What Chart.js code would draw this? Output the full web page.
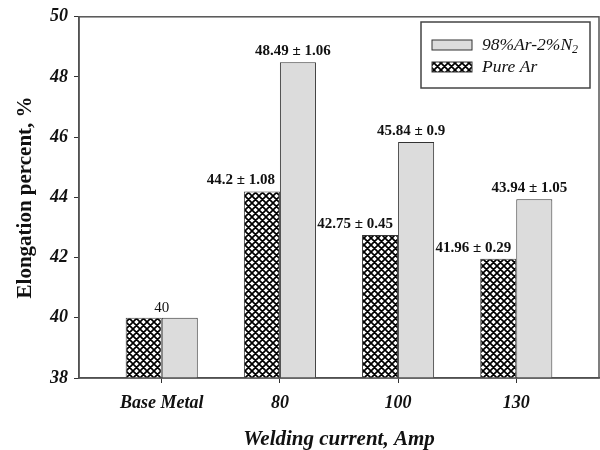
<!DOCTYPE html>
<html>
<head>
<meta charset="utf-8">
<script src="https://cdn.jsdelivr.net/npm/chart.js@4"></script>
<style>
  body { margin: 0; background: #fff; }
  #wrap { width: 600px; height: 450px; }
</style>
</head>
<body>
<div id="wrap"><canvas id="elongChart" width="600" height="450"></canvas></div>
<script>
// values
const categories = ['Base Metal', '80', '100', '130'];
const pureAr = [40, 44.2, 42.75, 41.96];
const pureArErr = [null, 1.08, 0.45, 0.29];
const mixAr = [40, 48.49, 45.84, 43.94];
const mixArErr = [null, 1.06, 0.9, 1.05];
const seriesLabels = ['Pure Ar', '98%Ar-2%N_2'];

const serif = "'Liberation Serif', 'Times New Roman', serif";
const ctx = document.getElementById('elongChart').getContext('2d');

// cross hatch fill for the Pure Ar bars
function makeHatch() {
    const c = document.createElement('canvas');
    c.width = 7;
    c.height = 7;
    const g = c.getContext('2d');
    g.fillStyle = '#fff';
    g.fillRect(0, 0, 7, 7);
    g.strokeStyle = '#000';
    g.lineWidth = 1.7;
    g.beginPath();
    for (let k = -7; k <= 7; k += 7) {
        g.moveTo(k, 0); g.lineTo(k + 7, 7);
        g.moveTo(k, 7); g.lineTo(k + 7, 0);
    }
    g.stroke();
    return ctx.createPattern(c, 'repeat');
}
const hatch = makeHatch();

const framePlugin = {
    id: 'frame',
    afterDraw(chart) {
        const { left, top, right, bottom } = chart.chartArea;
        const c = chart.ctx;
        c.save();
        c.strokeStyle = '#555';
        c.lineWidth = 1.5;
        c.strokeRect(left, top, right - left, bottom - top);
        c.restore();
    }
};

const valueLabels = {
    id: 'valueLabels',
    afterDatasetsDraw(chart) {
        const c = chart.ctx;
        const a = chart.getDatasetMeta(0).data;
        const b = chart.getDatasetMeta(1).data;
        c.save();
        c.fillStyle = '#111';
        c.textBaseline = 'alphabetic';
        categories.forEach((cat, i) => {
            if (pureArErr[i] == null) {
                c.font = '15px ' + serif;
                c.textAlign = 'center';
                c.fillText(String(pureAr[i]), (a[i].x + b[i].x) / 2, Math.min(a[i].y, b[i].y) - 6);
                return;
            }
            c.font = 'bold 15px ' + serif;
            c.textAlign = 'right';
            c.fillText(pureAr[i] + ' \u00b1 ' + pureArErr[i], a[i].x + a[i].width / 2 - 5, a[i].y - 7);
            c.textAlign = 'center';
            c.fillText(mixAr[i] + ' \u00b1 ' + mixArErr[i], b[i].x - 5, b[i].y - 7);
        });
        c.restore();
    }
};

const boxLegend = {
    id: 'boxLegend',
    afterDraw(chart) {
        const c = chart.ctx;
        c.save();
        c.strokeStyle = '#444';
        c.lineWidth = 1.5;
        c.strokeRect(421, 22, 169, 66);
        const rows = [chart.data.datasets[1], chart.data.datasets[0]];
        rows.forEach((ds, r) => {
            const cy = 45 + r * 22;
            c.fillStyle = ds.backgroundColor;
            c.fillRect(432, cy - 5, 40, 10);
            c.lineWidth = 1;
            c.strokeStyle = ds.borderColor;
            c.strokeRect(432, cy - 5, 40, 10);
            const parts = ds.label.split('_');
            c.fillStyle = '#111';
            c.textAlign = 'left';
            c.textBaseline = 'middle';
            c.font = 'italic 17.5px ' + serif;
            c.fillText(parts[0], 482, cy);
            if (parts[1]) {
                const w = c.measureText(parts[0]).width;
                c.font = 'italic 12px ' + serif;
                c.fillText(parts[1], 482 + w, cy + 5);
            }
        });
        c.restore();
    }
};

const tickFont = { family: serif, size: 18, weight: 'bold', style: 'italic' };

new Chart(ctx, {
    type: 'bar',
    data: {
        datasets: [
            {
                label: seriesLabels[0],
                data: pureAr.map((v, i) => ({ x: i, y: v })),
                backgroundColor: hatch,
                borderColor: '#333',
                borderWidth: 1
            },
            {
                label: seriesLabels[1],
                data: mixAr.map((v, i) => ({ x: i, y: v })),
                backgroundColor: '#dcdcdc',
                borderColor: '#333',
                borderWidth: 1
            }
        ]
    },
    options: {
        responsive: false,
        animation: false,
        categoryPercentage: 0.61,
        barPercentage: 1,
        layout: { padding: { top: 14, right: 1, left: 0, bottom: 0 } },
        plugins: {
            legend: { display: false },
            tooltip: { enabled: false }
        },
        scales: {
            x: {
                type: 'linear',
                min: -0.7,
                max: 3.7,
                offset: false,
                afterBuildTicks: s => { s.ticks = categories.map((c, i) => ({ value: i })); },
                afterFit: s => { s.height = 72; },
                ticks: {
                    callback: v => categories[v],
                    font: tickFont,
                    color: '#111',
                    padding: 10,
                    autoSkip: false,
                    maxRotation: 0
                },
                grid: { drawOnChartArea: false, tickLength: 5, color: '#333', offset: false },
                border: { color: '#444', width: 1.5 },
                title: {
                    display: true,
                    text: 'Welding current, Amp',
                    color: '#111',
                    font: { family: serif, size: 21, weight: 'bold', style: 'italic', lineHeight: 1 },
                    padding: { top: 0, bottom: 0 }
                }
            },
            y: {
                min: 38,
                max: 50,
                afterFit: s => { s.width = 79; },
                ticks: { stepSize: 2, font: tickFont, color: '#111', padding: 6 },
                grid: { drawOnChartArea: false, tickLength: 5, color: '#333' },
                border: { color: '#444', width: 1.5 },
                title: {
                    display: true,
                    text: 'Elongation percent, %',
                    color: '#111',
                    font: { family: serif, size: 21, weight: 'bold', lineHeight: 1.2 },
                    padding: { top: 13, bottom: 0 }
                }
            }
        }
    },
    plugins: [framePlugin, valueLabels, boxLegend]
});
</script>
</body>
</html>
